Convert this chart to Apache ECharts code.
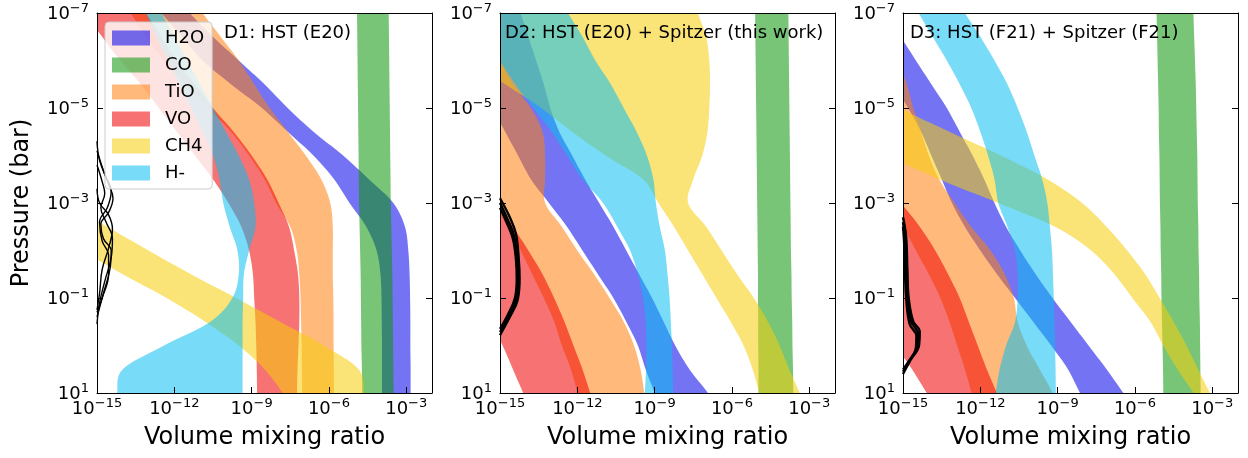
<!DOCTYPE html>
<html><head><meta charset="utf-8">
<script src="https://cdn.jsdelivr.net/npm/echarts@6/dist/echarts.min.js"></script>
<style>html,body{margin:0;padding:0;background:#fff}#c{width:1248px;height:458px}</style>
</head><body><div id="c"></div>
<script>
// shared pressure grid: log10(P / bar)
const logP = [-7.5,-7,-6.5,-6,-5.5,-5,-4.5,-4,-3.5,-3,-2.5,-2,-1.5,-1,-0.5,0,0.5,1,1.5];
const species = ['H2O','CO','TiO','VO','CH4','H-'];
const panelTitles = ['D1: HST (E20)','D2: HST (E20) + Spitzer (this work)','D3: HST (F21) + Spitzer (F21)'];
const xTickVals = [1e-15,1e-12,1e-9,1e-6,1e-3];
const yTickVals = [1e-7,1e-5,1e-3,1e-1,1e1];

// ---- D1: log10 VMR bounds at each logP ----
const d1_H2O_lo = [-13.2,-12.5,-11.7,-10.9,-9.8,-8.6,-7.6,-6.6,-5.8,-5.2,-4.55,-4.15,-4.0,-3.96,-3.95,-3.94,-3.94,-3.94,-3.94];
const d1_H2O_hi = [-12.2,-11.4,-10.5,-9.5,-8.5,-7.6,-6.6,-5.45,-4.45,-3.5,-3.05,-2.92,-2.87,-2.85,-2.84,-2.84,-2.83,-2.83,-2.83];
const d1_CO_lo  = [-4.92,-4.91,-4.9,-4.89,-4.88,-4.87,-4.86,-4.85,-4.84,-4.83,-4.81,-4.79,-4.77,-4.76,-4.75,-4.74,-4.72,-4.71,-4.7];
const d1_CO_hi  = [-3.69,-3.68,-3.67,-3.66,-3.65,-3.64,-3.63,-3.62,-3.61,-3.6,-3.58,-3.56,-3.54,-3.53,-3.52,-3.51,-3.5,-3.49,-3.48];
const d1_TiO_lo = [-14.4,-13.7,-13.1,-12.4,-11.6,-10.7,-9.8,-9.1,-8.5,-8.05,-7.5,-7.25,-7.15,-7.1,-7.08,-7.06,-7.05,-7.04,-7.04];
const d1_TiO_hi = [-11.5,-10.9,-10.2,-9.5,-8.9,-8.3,-7.6,-6.9,-6.3,-5.95,-5.85,-5.85,-5.85,-5.83,-5.82,-5.82,-5.81,-5.81,-5.81];
const d1_VO_lo  = [-16.2,-15.5,-14.8,-14.1,-13.3,-12.6,-11.9,-11.2,-10.5,-9.9,-9.4,-9.1,-8.95,-8.9,-8.85,-8.82,-8.8,-8.79,-8.79];
const d1_VO_hi  = [-13.8,-13.1,-12.5,-11.9,-11.2,-10.5,-9.7,-9.0,-8.4,-7.95,-7.55,-7.35,-7.2,-7.15,-7.15,-7.18,-7.22,-7.24,-7.25];
const d1_CH4_lo = [-26,-25,-24,-23,-22,-21,-20.5,-20,-19.5,-18.5,-17.2,-15.6,-14.0,-12.3,-10.8,-9.5,-8.5,-7.8,-7.3];
const d1_CH4_hi = [-24,-23,-22,-21,-20,-19.5,-19,-18.5,-17.8,-16.2,-14.6,-13.0,-11.35,-9.6,-7.9,-6.2,-4.85,-4.65,-4.6];
const d1_Hm_lo  = [-13.5,-13.1,-12.7,-12.25,-11.8,-11.35,-10.9,-10.5,-10.25,-10.1,-9.85,-9.55,-9.5,-9.75,-10.6,-12.4,-14.0,-14.22,-14.3];
const d1_Hm_hi  = [-13.0,-12.5,-12.0,-11.5,-11.0,-10.5,-10.0,-9.5,-9.1,-8.9,-8.85,-9.1,-9.3,-9.33,-9.35,-9.35,-9.35,-9.35,-9.35];

// ---- D2 ----
const d2_H2O_lo = [-17.5,-17,-16.6,-16.2,-15.8,-15.3,-14.8,-14.3,-13.8,-13.1,-12.4,-11.8,-11.2,-10.6,-10.1,-9.65,-9.35,-9.0,-8.7];
const d2_H2O_hi = [-14.5,-14.2,-13.9,-13.6,-13.3,-13.05,-12.7,-12.2,-11.7,-11.15,-10.6,-10.1,-9.6,-9.1,-8.65,-8.2,-7.65,-6.93,-6.3];
const d2_CO_lo  = [-5.12,-5.1,-5.09,-5.08,-5.07,-5.06,-5.05,-5.04,-5.03,-5.02,-5.01,-5.0,-4.99,-4.99,-4.98,-4.98,-4.97,-4.97,-4.96];
const d2_CO_hi  = [-3.83,-3.81,-3.8,-3.79,-3.78,-3.77,-3.76,-3.75,-3.74,-3.73,-3.72,-3.71,-3.69,-3.68,-3.66,-3.65,-3.63,-3.62,-3.61];
const d2_TiO_lo = [-19.5,-19,-18.5,-18,-17.6,-17.2,-16.8,-16.3,-15.8,-15.3,-14.7,-14.2,-13.75,-13.3,-12.9,-12.6,-12.25,-12.0,-11.8];
const d2_TiO_hi = [-16.0,-15.6,-15.3,-15.0,-14.5,-13.8,-13.35,-13.25,-13.25,-13.25,-12.6,-12.0,-11.35,-10.75,-10.2,-9.8,-9.55,-9.4,-9.3];
const d2_VO_lo  = [-22,-21.5,-21,-20.5,-20,-19.5,-19,-18.5,-18,-17.5,-17,-16.6,-16.2,-15.8,-15.4,-14.9,-14.5,-14.1,-13.7];
const d2_VO_hi  = [-19.5,-19,-18.6,-18.2,-17.8,-17.4,-17,-16.5,-15.9,-15.15,-14.5,-13.9,-13.35,-12.9,-12.5,-12.15,-11.8,-11.5,-11.2];
const d2_CH4_lo = [-18,-17.5,-17,-16.2,-14.8,-13.4,-12.2,-10.9,-9.45,-8.85,-8.25,-7.7,-7.15,-6.6,-6.05,-5.55,-5.2,-4.94,-4.7];
const d2_CH4_hi = [-7.6,-7.32,-7.0,-6.88,-6.85,-6.88,-6.95,-7.15,-7.5,-7.7,-7.0,-6.4,-5.8,-5.15,-4.6,-4.15,-3.78,-3.37,-3.0];
const d2_Hm_lo  = [-16.5,-16,-15.5,-15,-14.4,-13.7,-13.0,-12.4,-11.8,-11.0,-10.45,-9.95,-9.65,-9.45,-9.35,-9.32,-9.33,-9.38,-9.4];
const d2_Hm_hi  = [-12.9,-12.36,-11.8,-11.3,-10.7,-10.2,-9.7,-9.3,-9.05,-8.95,-8.8,-8.6,-8.5,-8.42,-8.37,-8.33,-8.3,-8.28,-8.27];

// ---- D3 ----
const d3_H2O_lo = [-17.5,-17,-16.5,-16,-15.4,-14.8,-14.3,-13.9,-13.5,-13.1,-12.6,-12.0,-11.35,-10.65,-9.95,-9.25,-8.6,-8.13,-7.6];
const d3_H2O_hi = [-16.4,-15.8,-15.1,-14.5,-13.9,-13.3,-12.8,-12.3,-11.85,-11.45,-11.0,-10.45,-9.85,-9.2,-8.5,-7.8,-7.1,-6.45,-5.8];
const d3_CO_lo  = [-5.17,-5.16,-5.14,-5.12,-5.1,-5.08,-5.07,-5.05,-5.04,-5.03,-5.01,-5.0,-4.98,-4.97,-4.95,-4.93,-4.91,-4.9,-4.89];
const d3_CO_hi  = [-3.75,-3.73,-3.7,-3.67,-3.64,-3.62,-3.6,-3.58,-3.57,-3.56,-3.54,-3.53,-3.51,-3.5,-3.48,-3.47,-3.46,-3.45,-3.44];
const d3_TiO_lo = [-20,-19.5,-19,-18.5,-18,-17.5,-17,-16.6,-16.1,-15.6,-15.0,-14.5,-14.0,-13.55,-13.2,-12.9,-12.6,-12.34,-12.1];
const d3_TiO_hi = [-16.5,-16,-15.6,-15.2,-14.85,-14.6,-14.3,-14.0,-13.6,-13.0,-12.35,-11.6,-11.05,-10.7,-10.55,-10.2,-9.7,-9.2,-8.9];
const d3_VO_lo  = [-23,-22.5,-22,-21.5,-21,-20.5,-20,-19.5,-19,-18.5,-18,-17.5,-17,-16.5,-15.9,-15.3,-14.65,-14.08,-13.5];
const d3_VO_hi  = [-20,-19.6,-19.2,-18.8,-18.4,-18,-17.5,-16.9,-16.1,-15.1,-14.35,-13.75,-13.25,-12.8,-12.45,-12.1,-11.75,-11.36,-11.0];
const d3_CH4_lo = [-22,-21.5,-21,-20.3,-19.5,-18.5,-17.2,-15.6,-13.6,-11.3,-9.1,-7.7,-6.8,-6.1,-5.4,-4.9,-4.35,-3.72,-3.1];
const d3_CH4_hi = [-20,-19.3,-18.5,-17.6,-16.5,-15.1,-13.2,-11.2,-9.4,-8.05,-7.1,-6.3,-5.6,-5.04,-4.5,-4.0,-3.55,-3.09,-2.6];
const d3_Hm_lo  = [-15.0,-14.4,-13.85,-13.3,-12.8,-12.35,-12.0,-11.7,-11.45,-11.3,-10.95,-10.65,-10.55,-10.55,-10.65,-11.0,-11.25,-11.4,-11.5];
const d3_Hm_hi  = [-13.2,-12.6,-12.0,-11.45,-10.95,-10.55,-10.2,-9.9,-9.6,-9.4,-9.3,-9.22,-9.18,-9.15,-9.12,-9.1,-9.08,-9.07,-9.06];

// ---- black profile curves: [log10 x, log10 P] ----
const d1_curves = [
  [[-15.0,-4.3],[-14.9,-3.9],[-14.55,-3.4],[-14.38,-3.1],[-14.55,-2.8],[-14.85,-2.55],[-14.75,-2.25],[-14.45,-2.0],[-14.5,-1.6],[-14.75,-1.1],[-15.0,-0.6]],
  [[-15.0,-3.8],[-14.8,-3.45],[-14.7,-3.2],[-14.85,-2.9],[-14.65,-2.6],[-14.4,-2.25],[-14.45,-1.85],[-14.7,-1.35],[-14.9,-0.9],[-15.0,-0.45]],
  [[-15.0,-3.3],[-14.9,-3.0],[-14.55,-2.75],[-14.4,-2.45],[-14.55,-2.05],[-14.8,-1.6],[-14.9,-1.1],[-15.0,-0.75]],
  [[-15.0,-4.1],[-14.7,-3.6],[-14.45,-3.25],[-14.6,-2.9],[-14.9,-2.6],[-14.8,-2.2],[-14.55,-1.9],[-14.55,-1.5],[-14.8,-1.0],[-15.0,-0.7]]
];
const d2_curves = [
  [[-15.0,-3.1],[-14.62,-2.7],[-14.38,-2.35],[-14.27,-1.8],[-14.24,-1.4],[-14.32,-0.95],[-14.62,-0.6],[-15.0,-0.22]],
  [[-15.0,-3.0],[-14.7,-2.65],[-14.45,-2.3],[-14.33,-1.8],[-14.3,-1.4],[-14.38,-0.95],[-14.68,-0.58],[-15.0,-0.28]],
  [[-15.0,-2.9],[-14.75,-2.6],[-14.5,-2.25],[-14.38,-1.8],[-14.35,-1.4],[-14.42,-1.0],[-14.72,-0.62],[-15.0,-0.35]]
];
const d3_curves = [
  [[-15.0,-2.7],[-14.88,-2.3],[-14.83,-1.6],[-14.78,-1.0],[-14.6,-0.5],[-14.35,-0.3],[-14.38,0.0],[-14.7,0.3],[-15.0,0.6]],
  [[-15.0,-2.6],[-14.92,-2.2],[-14.88,-1.6],[-14.83,-1.0],[-14.68,-0.5],[-14.42,-0.25],[-14.45,0.02],[-14.75,0.32],[-15.0,0.55]],
  [[-15.0,-2.5],[-14.95,-2.1],[-14.92,-1.5],[-14.87,-0.95],[-14.74,-0.45],[-14.48,-0.2],[-14.5,0.05],[-14.8,0.35],[-15.0,0.5]]
];

const COLORS = {
  'H2O': 'rgba(0,0,235,0.55)',
  'CO':  'rgba(10,150,10,0.55)',
  'TiO': 'rgba(255,127,14,0.55)',
  'VO':  'rgba(240,0,0,0.55)',
  'CH4': 'rgba(245,205,10,0.55)',
  'H-':  'rgba(10,190,240,0.55)'
};

const panels = [
  {bands: {'H2O':[d1_H2O_lo,d1_H2O_hi],'CO':[d1_CO_lo,d1_CO_hi],'TiO':[d1_TiO_lo,d1_TiO_hi],'VO':[d1_VO_lo,d1_VO_hi],'CH4':[d1_CH4_lo,d1_CH4_hi],'H-':[d1_Hm_lo,d1_Hm_hi]}, curves: d1_curves, lw: 1.4},
  {bands: {'H2O':[d2_H2O_lo,d2_H2O_hi],'CO':[d2_CO_lo,d2_CO_hi],'TiO':[d2_TiO_lo,d2_TiO_hi],'VO':[d2_VO_lo,d2_VO_hi],'CH4':[d2_CH4_lo,d2_CH4_hi],'H-':[d2_Hm_lo,d2_Hm_hi]}, curves: d2_curves, lw: 2.4},
  {bands: {'H2O':[d3_H2O_lo,d3_H2O_hi],'CO':[d3_CO_lo,d3_CO_hi],'TiO':[d3_TiO_lo,d3_TiO_hi],'VO':[d3_VO_lo,d3_VO_hi],'CH4':[d3_CH4_lo,d3_CH4_hi],'H-':[d3_Hm_lo,d3_Hm_hi]}, curves: d3_curves, lw: 2.4}
];

const FONT = 'DejaVu Sans';
const gridLeft = [97, 500, 903];
const GRID_TOP = 13, GRID_W = 335, GRID_H = 380;
const MINUS = '\u2212';

function expLabel(v) {
  const e = Math.round(Math.log10(v));
  return '{b|10}{s|' + (e < 0 ? MINUS + (-e) : String(e)) + '}';
}
const richLabel = {
  b: {fontSize: 18, lineHeight: 21, padding: [3, 0, 0, 0], color: '#000', fontFamily: FONT},
  s: {fontSize: 13, lineHeight: 15, verticalAlign: 'top', color: '#000', fontFamily: FONT}
};

// draw-time smoothing of an edge (pixel space)
function catmull(pts, seg) {
  const out = [];
  const n = pts.length;
  for (let i = 0; i < n - 1; i++) {
    const p0 = pts[Math.max(i - 1, 0)], p1 = pts[i], p2 = pts[i + 1], p3 = pts[Math.min(i + 2, n - 1)];
    for (let t = 0; t < seg; t++) {
      const s = t / seg, s2 = s * s, s3 = s2 * s;
      const f = k => 0.5 * (2 * p1[k] + (-p0[k] + p2[k]) * s + (2 * p0[k] - 5 * p1[k] + 4 * p2[k] - p3[k]) * s2 + (-p0[k] + 3 * p1[k] - 3 * p2[k] + p3[k]) * s3);
      out.push([f(0), f(1)]);
    }
  }
  out.push(pts[n - 1]);
  return out;
}

function makeRender(color) {
  return function (params, api) {
    if (params.dataIndexInside !== 0) return null;
    const n = params.dataInsideLength;
    const lo = [], hi = [];
    for (let i = 0; i < n; i++) {
      lo.push(api.coord([api.value(0, i), api.value(2, i)]));
      hi.push(api.coord([api.value(1, i), api.value(2, i)]));
    }
    const pts = catmull(lo, 8).concat(catmull(hi, 8).reverse());
    const cs = params.coordSys;
    return {
      type: 'polygon',
      shape: {points: pts},
      style: {fill: color, stroke: null},
      clipPath: {type: 'rect', shape: {x: cs.x, y: cs.y, width: cs.width, height: cs.height}}
    };
  };
}

const grids = [], xAxes = [], yAxes = [], series = [], titles = [];
panels.forEach((pn, i) => {
  grids.push({left: gridLeft[i], top: GRID_TOP, width: GRID_W, height: GRID_H, containLabel: false});
  const axisLine = {show: true, lineStyle: {color: '#000', width: 1}};
  xAxes.push({
    gridIndex: i, type: 'log', logBase: 10, min: 1e-15, max: 1e-2, position: 'bottom', z: 10,
    axisLine, splitLine: {show: false}, minorTick: {show: false},
    axisTick: {show: true, inside: true, length: 6, lineStyle: {color: '#000'}, customValues: xTickVals},
    axisLabel: {customValues: xTickVals, formatter: expLabel, rich: richLabel, margin: 4},
    name: 'Volume mixing ratio', nameLocation: 'middle', nameGap: 33,
    nameTextStyle: {fontSize: 24, color: '#000', fontFamily: FONT}
  });
  xAxes.push({
    gridIndex: i, type: 'log', logBase: 10, min: 1e-15, max: 1e-2, position: 'top', z: 10,
    axisLine, splitLine: {show: false}, axisTick: {show: false}, axisLabel: {show: false}
  });
  const yLeft = {
    gridIndex: i, type: 'log', logBase: 10, min: 1e-7, max: 1e1, inverse: true, position: 'left', z: 10,
    axisLine, splitLine: {show: false}, minorTick: {show: false},
    axisTick: {show: true, inside: true, length: 6, lineStyle: {color: '#000'}, customValues: yTickVals},
    axisLabel: {customValues: yTickVals, formatter: expLabel, rich: richLabel, margin: 8}
  };
  if (i === 0) {
    Object.assign(yLeft, {name: 'Pressure (bar)', nameLocation: 'middle', nameGap: 63, nameRotate: 90,
      nameTextStyle: {fontSize: 24, color: '#000', fontFamily: FONT}});
  }
  yAxes.push(yLeft);
  yAxes.push({
    gridIndex: i, type: 'log', logBase: 10, min: 1e-7, max: 1e1, inverse: true, position: 'right', z: 10,
    axisLine, splitLine: {show: false},
    axisTick: {show: true, inside: true, length: 6, lineStyle: {color: '#000'}, customValues: yTickVals},
    axisLabel: {show: false}
  });

  species.forEach(sp => {
    const [lo, hi] = pn.bands[sp];
    const data = logP.map((p, k) => [Math.pow(10, lo[k]), Math.pow(10, hi[k]), Math.pow(10, p)]);
    series.push({
      type: 'custom', name: sp, coordinateSystem: 'cartesian2d',
      xAxisIndex: 2 * i, yAxisIndex: 2 * i, silent: true, clip: true, z: 2,
      itemStyle: {color: COLORS[sp]},
      encode: {x: [0, 1], y: 2},
      renderItem: makeRender(COLORS[sp]),
      data
    });
  });
  pn.curves.forEach(c => {
    series.push({
      type: 'line', xAxisIndex: 2 * i, yAxisIndex: 2 * i, silent: true, z: 3,
      symbol: 'none', smooth: 0.4, clip: true,
      lineStyle: {color: '#000', width: pn.lw},
      data: c.map(q => [Math.pow(10, q[0]), Math.pow(10, q[1])])
    });
  });
});

titles.push({text: panelTitles[0], left: 224, top: 24});
titles.push({text: panelTitles[1], left: 505, top: 24});
titles.push({text: panelTitles[2], left: 910, top: 24});
titles.forEach(t => { t.padding = 0; t.textStyle = {fontSize: 18, fontWeight: 'normal', color: '#000', fontFamily: FONT}; t.z = 12; });

const option = {
  animation: false,
  backgroundColor: '#fff',
  textStyle: {fontFamily: FONT},
  title: titles,
  legend: {
    left: 105, top: 22, orient: 'vertical', icon: 'rect',
    itemWidth: 38, itemHeight: 15, itemGap: 9,
    padding: [7, 8, 7, 7],
    backgroundColor: 'rgba(255,255,255,0.8)', borderColor: '#cccccc', borderWidth: 1, borderRadius: 4,
    textStyle: {fontSize: 18, color: '#000', fontFamily: FONT, lineHeight: 18, padding: [0, 0, 0, 10]},
    selectedMode: false, z: 11,
    data: species.map(sp => ({name: sp, itemStyle: {color: COLORS[sp], borderWidth: 0}}))
  },
  grid: grids,
  xAxis: xAxes,
  yAxis: yAxes,
  series
};

const chart = echarts.init(document.getElementById('c'), null, {renderer: 'canvas'});
chart.setOption(option);
</script>
</body></html>
